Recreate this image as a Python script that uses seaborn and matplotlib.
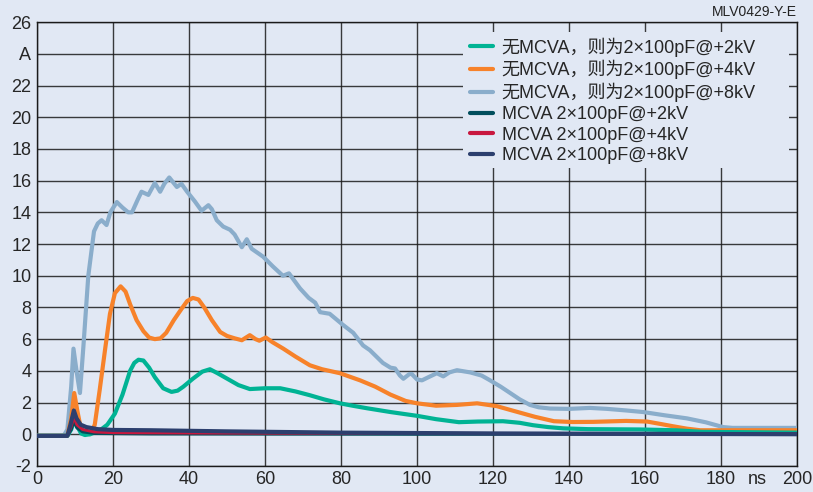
import numpy as np
import pandas as pd
import seaborn as sns
import matplotlib.pyplot as plt
from matplotlib.patches import Rectangle

# --- data ---
x_lb = [0, 7, 8, 9, 9.6, 10.4, 11.3, 12.2, 13.5, 15, 16, 17, 18.3, 19.3, 21, 22.5, 24, 25, 26.5,
        27.5, 29.3, 31, 32.4, 33.5, 34.8, 35.8, 36.8, 38, 39.5, 41.5, 43.3, 45.1, 46, 47.3, 49,
        50.8, 52, 53.9, 55.2, 56.5, 59.5, 62, 64.7, 66.3, 69.2, 71.5, 73.2, 74.5, 77, 80.5, 83.2,
        85.8, 87.6, 91, 93, 94.2, 95.5, 96.4, 98, 98.6, 100, 101.3, 103, 105.2, 106.9, 108.5,
        110.5, 114, 117, 119.2, 122, 124.5, 127, 129.7, 132, 135, 140, 145.5, 150, 155, 159.5,
        165, 171, 176, 180.5, 183, 190, 200]
y_lb = [-0.1, -0.1, 0.3, 3.0, 5.4, 4.0, 2.6, 5.5, 10, 12.8, 13.3, 13.5, 13.2, 14.0, 14.65, 14.3,
        14.0, 14.0, 14.8, 15.3, 15.1, 15.85, 15.3, 15.8, 16.2, 15.9, 15.6, 15.8, 15.3, 14.7, 14.1,
        14.45, 14.2, 13.5, 13.1, 12.9, 12.6, 11.8, 12.3, 11.7, 11.2, 10.6, 10.0, 10.15, 9.2, 8.6,
        8.3, 7.7, 7.6, 6.9, 6.4, 5.6, 5.3, 4.5, 4.2, 4.15, 3.7, 3.5, 3.8, 3.8, 3.45, 3.4, 3.6,
        3.85, 3.65, 3.9, 4.04, 3.9, 3.7, 3.4, 3.0, 2.6, 2.2, 1.85, 1.7, 1.62, 1.6, 1.66, 1.6, 1.5,
        1.4, 1.2, 1.0, 0.75, 0.45, 0.4, 0.4, 0.4]

x_or = [0, 8, 9, 9.8, 10.6, 11.5, 12.6, 14, 15.2, 16.5, 18, 19.2, 20.5, 22, 23.3, 24.5, 26.2, 28,
        29.5, 31, 32.5, 34, 36, 38, 39.5, 41, 42.5, 44, 46, 48.2, 50, 52, 53.9, 55, 56, 57.5, 58.5,
        60.2, 62, 64.8, 68, 71.8, 75, 79.7, 85, 89, 93, 97, 100, 105, 110.5, 115.8, 121, 125, 128,
        131, 136, 141, 146.3, 155, 160.5, 164, 167.4, 171, 174.5, 180, 200]
y_or = [-0.1, -0.1, 1.0, 2.6, 1.5, 0.4, 0.05, 0.0, 0.6, 2.8, 5.5, 7.6, 8.9, 9.33, 9.0, 8.2, 7.2,
        6.5, 6.1, 6.0, 6.05, 6.4, 7.2, 7.9, 8.4, 8.6, 8.5, 8.0, 7.2, 6.45, 6.2, 6.05, 5.93, 6.1,
        6.25, 6.0, 5.9, 6.1, 5.8, 5.4, 4.9, 4.35, 4.1, 3.85, 3.4, 3.0, 2.5, 2.1, 1.95, 1.8, 1.85,
        1.95, 1.77, 1.5, 1.3, 1.1, 0.82, 0.77, 0.78, 0.84, 0.8, 0.65, 0.5, 0.35, 0.25, 0.25, 0.25]

x_te = [0, 8, 9, 9.8, 10.6, 11.6, 12.6, 14, 16.6, 18.5, 20.5, 22.5, 24.5, 25.6, 26.7, 28, 29.5, 31,
        33.2, 35.4, 37, 38.5, 41, 43.5, 45.5, 47.5, 50.8, 53, 56, 60, 64, 68, 71.8, 75.5, 79.7, 83,
        86.8, 93, 100, 105, 111, 116, 122.6, 127, 130.5, 134.5, 138.5, 145, 158.7, 168, 175, 200]
y_te = [-0.1, -0.1, 0.3, 0.9, 0.5, 0.05, -0.05, 0.0, 0.25, 0.6, 1.3, 2.5, 4.0, 4.5, 4.7, 4.65,
        4.2, 3.6, 2.9, 2.67, 2.75, 3.0, 3.5, 3.95, 4.1, 3.85, 3.4, 3.1, 2.85, 2.9, 2.9, 2.7, 2.46,
        2.2, 1.95, 1.8, 1.64, 1.4, 1.16, 0.95, 0.76, 0.8, 0.82, 0.72, 0.57, 0.45, 0.37, 0.32, 0.3,
        0.25, 0.15, 0.1]

x_m2 = [0, 8, 9, 9.7, 10.5, 12, 15, 30, 100, 200]
y_m2 = [-0.1, -0.1, 0.3, 0.8, 0.4, 0.15, 0.05, 0.02, 0.0, 0.0]

x_m4 = [0, 8, 9, 9.7, 10.5, 12, 15, 20, 40, 100, 200]
y_m4 = [-0.1, -0.1, 0.5, 1.1, 0.6, 0.3, 0.15, 0.1, 0.08, 0.05, 0.02]

x_m8 = [0, 8, 8.8, 9.7, 10.4, 11.5, 13, 16, 20, 30, 50, 80, 120, 200]
y_m8 = [-0.1, -0.1, 0.6, 1.5, 1.0, 0.6, 0.45, 0.32, 0.27, 0.25, 0.18, 0.1, 0.05, 0.0]

labels = ["无MCVA，则为2×100pF@+2kV", "无MCVA，则为2×100pF@+4kV", "无MCVA，则为2×100pF@+8kV",
          "MCVA 2×100pF@+2kV", "MCVA 2×100pF@+4kV", "MCVA 2×100pF@+8kV"]
colors = ["#00b394", "#f7822a", "#8aadcb", "#004e5c", "#c8173e", "#2c3f6e"]
xs = [x_te, x_or, x_lb, x_m2, x_m4, x_m8]
ys = [y_te, y_or, y_lb, y_m2, y_m4, y_m8]
widths = [3.0, 3.0, 3.0, 2.2, 2.2, 3.0]

bg = "#e1e8f4"
sns.set_style("white", rc={"axes.facecolor": bg, "figure.facecolor": bg})
plt.rcParams['font.family'] = ['Liberation Sans', 'Noto Sans CJK SC', 'DejaVu Sans']

fig = plt.figure(figsize=(8.13, 4.92), dpi=100)
ax = fig.add_axes([0.0455, 0.053, 0.935, 0.902])

# draw order: light blue under orange under teal, MCVA curves on top
order = [2, 1, 0, 3, 4, 5]
for i in order:
    df = pd.DataFrame({"t": xs[i], "I": ys[i]})
    sns.lineplot(data=df, x="t", y="I", ax=ax, color=colors[i], linewidth=widths[i],
                 label=labels[i], zorder=3 + order.index(i))
h, l = ax.get_legend_handles_labels()
hmap = dict(zip(l, h))

ax.set_xlim(0, 200)
ax.set_ylim(-2, 26)
ax.set_xticks(np.arange(0, 201, 20))
ax.set_yticks(np.arange(-2, 27, 2))
ylabs = [str(v) for v in range(-2, 27, 2)]
ylabs[ylabs.index("24")] = "A"
ax.set_yticklabels(ylabs)
ax.set_xlabel("")
ax.set_ylabel("")
ax.tick_params(length=0, labelsize=13, pad=4)
ax.grid(True, color="#1a1a1a", linewidth=1.0, alpha=0.85)
ax.set_axisbelow(True)
for s in ax.spines.values():
    s.set_color("#1a1a1a")
    s.set_linewidth(1.0)

ax.text(189.5, -2.3, "ns", ha="center", va="top", fontsize=13)

# legend background block
ax.add_patch(Rectangle((0.5605, 0.671), 0.4285, 0.306, transform=ax.transAxes,
                       facecolor=bg, edgecolor="none", zorder=15))
leg = ax.legend([hmap[t] for t in labels], labels, loc="upper left",
                bbox_to_anchor=(0.5697, 0.966), fontsize=13, frameon=False,
                labelspacing=0.2, handlelength=1.25, handletextpad=0.5,
                borderpad=0, borderaxespad=0)
leg.set_zorder(20)
for line in leg.get_lines():
    line.set_linewidth(3)

fig.text(0.980, 0.975, "MLV0429-Y-E", ha="right", va="center", fontsize=10, color="#222222")

fig.savefig("out.png", dpi=100, facecolor=bg)
